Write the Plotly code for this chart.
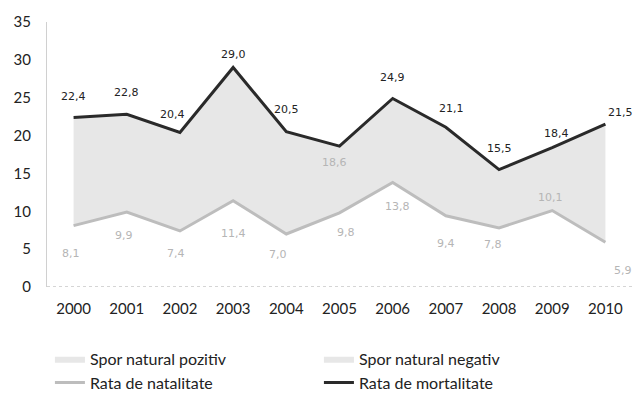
import plotly.graph_objects as go

years = [2000, 2001, 2002, 2003, 2004, 2005, 2006, 2007, 2008, 2009, 2010]
natalitate = [8.1, 9.9, 7.4, 11.4, 7.0, 9.8, 13.8, 9.4, 7.8, 10.1, 5.9]
mortalitate = [22.4, 22.8, 20.4, 29.0, 20.5, 18.6, 24.9, 21.1, 15.5, 18.4, 21.5]
y_ticks = [0, 5, 10, 15, 20, 25, 30, 35]

# label offsets (pixels), style only
mort_dx = [0, 0, -7, 0, 0, -5, 0, 6, 0, 4, 15]
mort_dy = [21, 22, 18, 13, 22, -16, 21, 19, 21, 14, 12]
nat_dx = [-3, -3, -4, 0, -8, 6, 5, 0, -6, -2, 18]
nat_dy = [-28, -23, -23, -33, -20, -20, -24, -28, -17, 13, -28]

def fmt(v):
    return f"{v:.1f}".replace(".", ",")

FILL = "#e7e7e7"
NAT = "#bdbdbd"
MORT = "#2a2a2a"

fig = go.Figure()
fig.add_trace(go.Scatter(x=years, y=natalitate, mode="lines",
                         line=dict(color=NAT, width=3),
                         name="Rata de natalitate", legendrank=3))
fig.add_trace(go.Scatter(x=years, y=mortalitate, mode="lines", fill="tonexty",
                         fillcolor=FILL, line=dict(width=0, color=FILL),
                         name="Spor natural negativ", legendrank=2))
fig.add_trace(go.Scatter(x=years, y=mortalitate, mode="lines",
                         line=dict(color=MORT, width=3),
                         name="Rata de mortalitate", legendrank=4))
fig.add_trace(go.Scatter(x=years, y=[None] * len(years), mode="lines", fill="toself",
                         fillcolor=FILL, line=dict(width=0, color=FILL),
                         name="Spor natural pozitiv", legendrank=1))

anns = []
for i, (yr, v) in enumerate(zip(years, mortalitate)):
    col = "#b5b5b5" if mort_dy[i] < 0 else "#222222"
    anns.append(dict(x=yr, y=v, text=fmt(v), showarrow=False, xshift=mort_dx[i],
                     yshift=mort_dy[i], font=dict(family="DejaVu Sans", size=11, color=col)))
for i, (yr, v) in enumerate(zip(years, natalitate)):
    anns.append(dict(x=yr, y=v, text=fmt(v), showarrow=False, xshift=nat_dx[i],
                     yshift=nat_dy[i], font=dict(family="DejaVu Sans", size=11, color="#b5b5b5")))

fig.update_layout(
    width=638, height=406,
    margin=dict(l=47, r=6, t=22, b=109),
    paper_bgcolor="white", plot_bgcolor="white",
    showlegend=True,
    legend=dict(orientation="h", x=0.005, xanchor="left", y=-0.207, yanchor="top",
                entrywidth=224, entrywidthmode="pixels", traceorder="normal",
                font=dict(family="Lato", size=16, color="#222222"),
                itemwidth=30, tracegroupgap=0),
    annotations=anns,
    font=dict(family="Lato", color="#222222"),
)
fig.update_xaxes(range=[1999.5, 2010.5], tickvals=years, showgrid=False,
                 showline=False, zeroline=False,
                 ticks="outside", ticklen=8, tickcolor="rgba(0,0,0,0)",
                 tickfont=dict(family="Lato", size=15, color="#222222"))
fig.update_yaxes(range=[0, 35], tickvals=y_ticks, showgrid=False, zeroline=False,
                 showline=True, linecolor="#d0d0d0", linewidth=1,
                 ticks="outside", ticklen=12, tickcolor="rgba(0,0,0,0)",
                 tickfont=dict(family="Lato", size=15, color="#222222"))
fig.add_shape(type="line", xref="paper", yref="y", x0=0, x1=1, y0=0, y1=0,
              line=dict(color="#aaaaaa", width=1, dash="dot"))

fig.write_html("out.html", config={"displayModeBar": False},
               post_script="document.body.style.margin='0';document.body.style.overflow='hidden';")
